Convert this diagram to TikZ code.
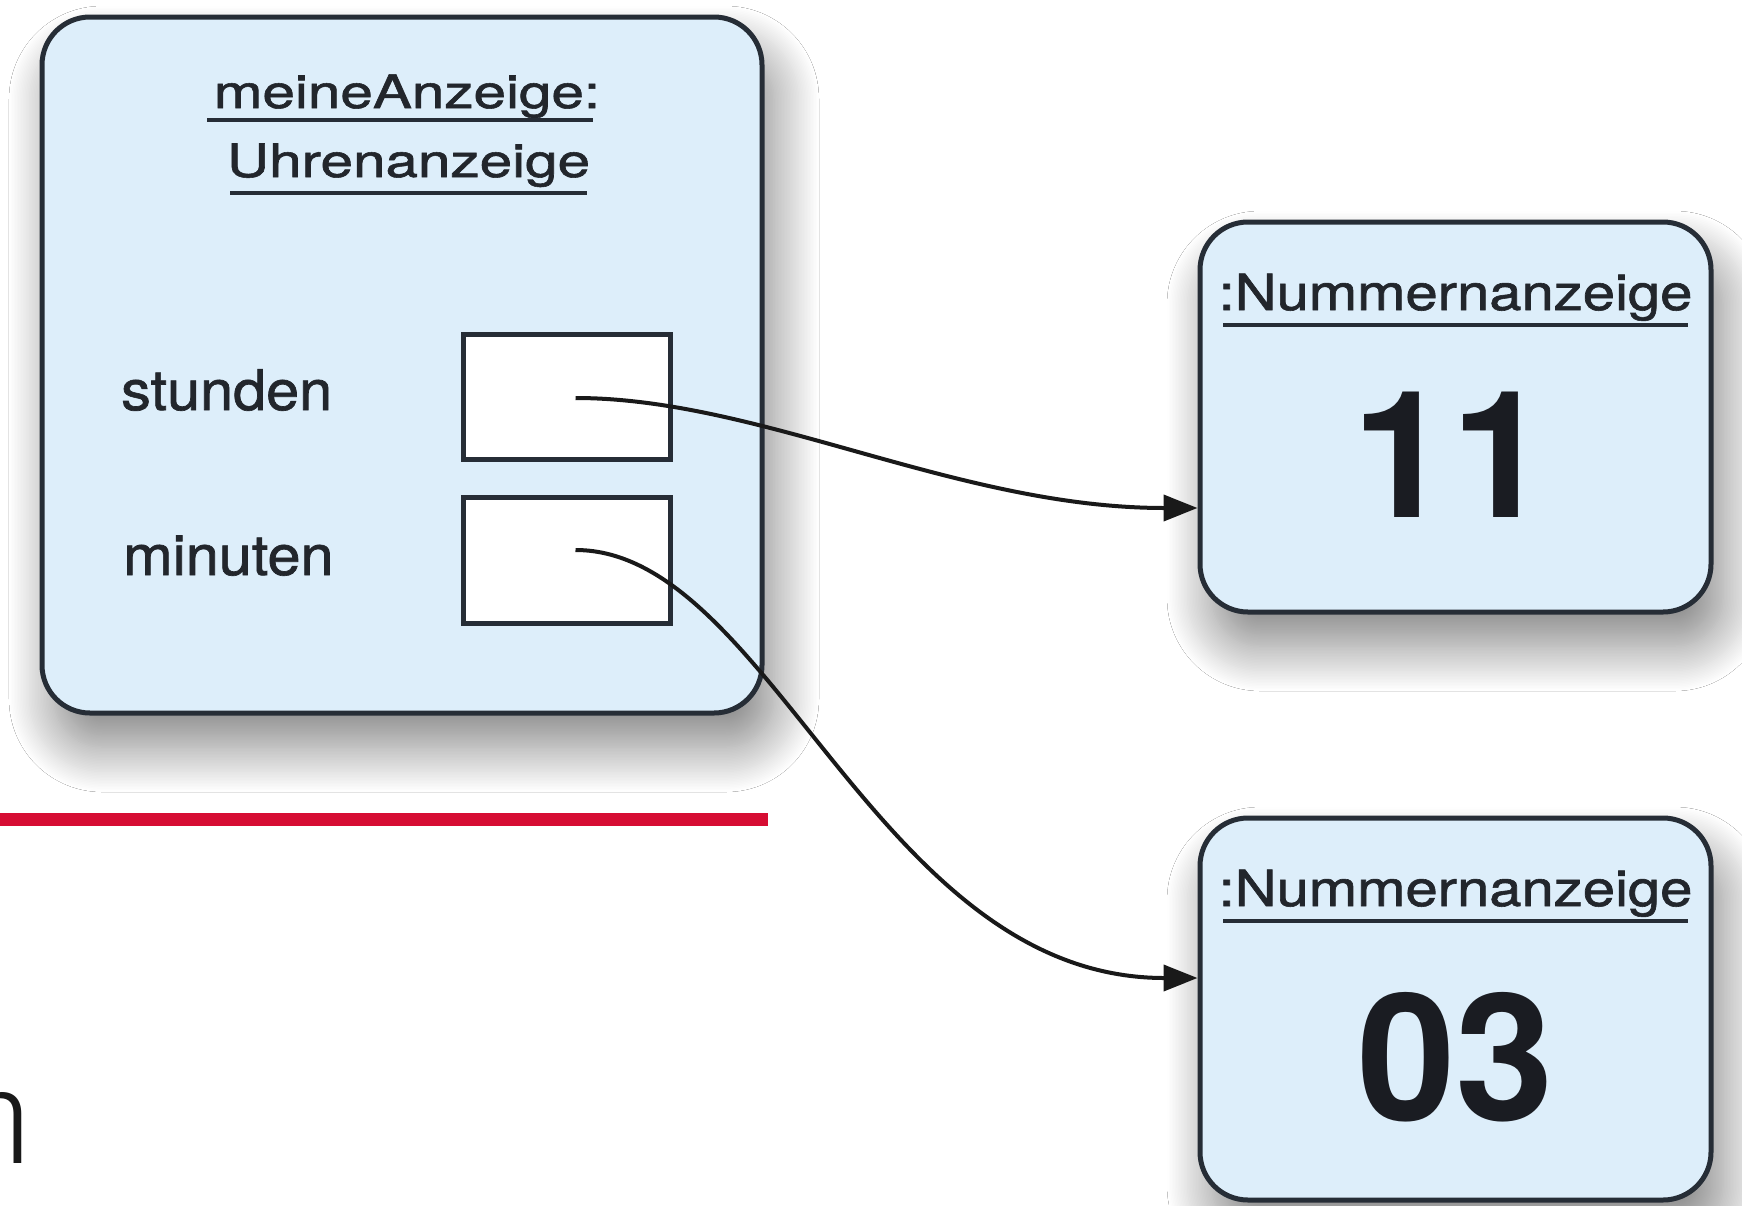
\documentclass[tikz,border=0pt]{standalone}
\usepackage{fontspec}
\setmainfont{TeX Gyre Heros}[FakeBold=1.2]
\newfontfamily\digitfont{TeX Gyre Heros}[UprightFont=*-Bold]
\newfontfamily\thinfont{Fira Sans Light}
\usetikzlibrary{arrows.meta,shadows.blur,calc}

\definecolor{boxfill}{RGB}{221,238,250}
\definecolor{edge}{RGB}{38,45,54}
\definecolor{ink}{RGB}{34,38,44}
\definecolor{digits}{RGB}{26,28,34}
\definecolor{signal}{RGB}{214,13,51}

\tikzset{
  objbox/.style={draw=edge, line width=5pt, fill=boxfill, rounded corners=48pt, inner sep=0pt,
    blur shadow={shadow xshift=12pt, shadow yshift=-34pt,
                 shadow blur radius=45pt, shadow blur steps=30, shadow opacity=48}},
  slot/.style={draw=edge, line width=5pt, fill=white, inner sep=0pt},
  lbl/.style={text=ink, inner sep=0pt, anchor=base},
  uline/.style={draw=edge, line width=4.5pt},
  link/.style={draw=black!90, line width=4pt, -{Triangle[length=34pt,width=26pt]}},
}

\begin{document}
\begin{tikzpicture}[x=1pt, y=-1pt]
  \useasboundingbox (0,0) rectangle (1742,1205);
  \fill[white] (0,0) rectangle (1742,1205);
  \clip (0,0) rectangle (1742,1205);

  % object meineAnzeige
  \node[objbox, minimum width=720pt, minimum height=696pt] (main) at (402,365) {};
  \node[lbl] (t1) at (407,108) {\fontsize{46pt}{50pt}\selectfont\scalebox{1.27}[1]{meineAnzeige:}};
  \node[lbl] (t2) at (408.5,177) {\fontsize{46pt}{50pt}\selectfont\scalebox{1.27}[1]{Uhrenanzeige}};
  \draw[uline] (207,120) -- (593,120);
  \draw[uline] (230,193) -- (587,193);

  \node[lbl, anchor=base west] (lh) at (121,410) {\fontsize{56pt}{60pt}\selectfont\scalebox{1.06}[1]{stunden}};
  \node[lbl, anchor=base west] (lm) at (123,575) {\fontsize{56pt}{60pt}\selectfont\scalebox{1.06}[1]{minuten}};
  \node[slot, minimum width=207pt, minimum height=125pt] (sbox) at (566.5,396.5) {};
  \node[slot, minimum width=207pt, minimum height=126pt] (mbox) at (566.5,560) {};

  % the two number displays
  \node[objbox, minimum width=511pt, minimum height=390pt] (num1) at (1455.5,417) {};
  \node[lbl] (n1t) at (1455.5,310) {\fontsize{50pt}{54pt}\selectfont\scalebox{1.16}[1]{:Nummernanzeige}};
  \draw[uline] (1223,325) -- (1688,325);
  \node[lbl, text=digits] (n1v) at (1451,517) {\digitfont\fontsize{177pt}{180pt}\selectfont 11};

  \node[objbox, minimum width=511pt, minimum height=382pt] (num2) at (1455.5,1009) {};
  \node[lbl] (n2t) at (1455.5,906) {\fontsize{50pt}{54pt}\selectfont\scalebox{1.16}[1]{:Nummernanzeige}};
  \draw[uline] (1223,921) -- (1688,921);
  \node[lbl, text=digits] (n2v) at (1455.5,1120) {\digitfont\fontsize{177pt}{180pt}\selectfont 03};

  % red rule and the letter at the lower left
  \fill[signal] (0,813) rectangle (768,826);
  \node[anchor=base east, inner sep=0pt, text=black!90] (letter) at (35,1163) {\thinfont\fontsize{133pt}{140pt}\selectfont n};

  % references
  \coordinate (s1) at ([xshift=9pt,yshift=-1.5pt]sbox.center);
  \coordinate (s2) at ([xshift=9pt,yshift=10pt]mbox.center);
  \coordinate (e1) at ([yshift=-91pt]num1.west);
  \coordinate (e2) at ([yshift=31pt]num2.west);
  \draw[link] (s1) .. controls +(185,0) and +(-240,0) .. (e1);
  \draw[link] (s2) .. controls +(195,0) and +(-320,0) .. (e2);
\end{tikzpicture}
\end{document}
